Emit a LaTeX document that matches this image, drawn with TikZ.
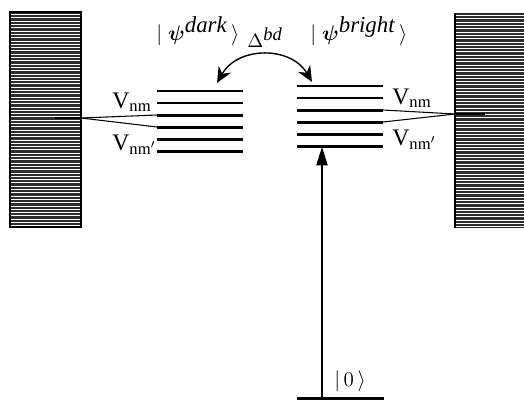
\documentclass[tikz,border=0pt]{standalone}
\usepackage{bm}
\usepackage{fontspec}
\setmainfont{Liberation Serif}
\usetikzlibrary{arrows.meta}

\newcommand{\kettag}[1]{\mbox{\fontsize{13}{15}\selectfont\itshape #1}}

\begin{document}
\begin{tikzpicture}[x=0.02cm,y=-0.02cm]
\tikzstyle{level}=[line width=1.7pt]
\tikzstyle{coupling}=[line width=0.6pt]
\tikzstyle{bath}=[fill=black!82]
\tikzstyle{stripe}=[white, line width=0.45pt]
\tikzstyle{lbl}=[inner sep=0pt, font=\fontsize{13.5}{15}\selectfont]
\tikzstyle{ket}=[inner sep=0pt, font=\fontsize{12.5}{15}\selectfont]
\useasboundingbox (0,0) rectangle (524,400);

% left continuum
\fill[bath] (10,12) rectangle (81,227);
\foreach \y in {14.5,17.8,...,226} \draw[stripe] (11,\y) -- (80,\y);
\draw[line width=0.7pt] (10,12) rectangle (81,227);

% right continuum
\fill[bath] (455,13) rectangle (524,228);
\foreach \y in {15.5,18.8,...,227} \draw[stripe] (456,\y) -- (524,\y);
\draw[line width=0.7pt] (455,13) -- (455,228);

% dark manifold
\foreach \i/\y in {1/91,2/103,3/115,4/127,5/139,6/151} {
  \coordinate (dw\i) at (157,\y);
  \coordinate (de\i) at (243,\y);
  \draw[level] (dw\i) -- (de\i);
}

% bright manifold
\foreach \i/\y in {1/86,2/98,3/110,4/122,5/134,6/146} {
  \coordinate (bw\i) at (297,\y);
  \coordinate (be\i) at (383,\y);
  \draw[level] (bw\i) -- (be\i);
}

% couplings to the continua
\coordinate (lc) at (81,118);
\coordinate (lin) at (55,118);
\coordinate (rc) at (455,114);
\coordinate (rin) at (485,114);
\draw[line width=1.4pt] (lin) -- (lc);
\draw[line width=1.4pt] (rc) -- (rin);
\draw[coupling] (lc) -- (dw3);
\draw[coupling] (lc) -- (dw4);
\draw[coupling] (be3) -- (rc);
\draw[coupling] (be4) -- (rc);

% labels
\node[lbl, anchor=base west] (vl1) at (112,108) {V\textsubscript{nm}};
\node[lbl, anchor=base west] (vl2) at (112,150) {V\textsubscript{nm$'$}};
\node[lbl, anchor=base west] (vr1) at (392,104) {V\textsubscript{nm}};
\node[lbl, anchor=base west] (vr2) at (392,145) {V\textsubscript{nm$'$}};
\node[ket, anchor=base west] (dark) at (156,40) {$|\;\bm{\psi}^{\kettag{dark}}\,\rangle$};
\node[ket, anchor=base west] (bright) at (310,40) {$|\;\bm{\psi}^{\kettag{bright}}\,\rangle$};
\node[inner sep=0pt, anchor=base west, font=\fontsize{10.5}{12}\selectfont] (delta) at (247,47) {$\Delta^{\textit{bd}}$};

% coupling between the manifolds
\coordinate (dtip) at (217,83);
\coordinate (btip) at (312,82);
\draw[{Stealth[length=9pt,width=8pt]}-{Stealth[length=9pt,width=8pt]}, line width=0.8pt]
  (dtip) .. controls (238,46) and (291,46) .. (btip);

% ground state and excitation
\coordinate (gw) at (297,398);
\coordinate (ge) at (384,398);
\coordinate (gnd) at (322,398);
\coordinate (pump) at (322,147);
\draw[level] (gw) -- (ge);
\draw[-{Triangle[length=10.5pt,width=6.5pt]}, line width=0.6pt] (gnd) -- (pump);
\node[ket, anchor=base west] (zero) at (334,386) {$|\,0\,\rangle$};

\end{tikzpicture}
\end{document}
